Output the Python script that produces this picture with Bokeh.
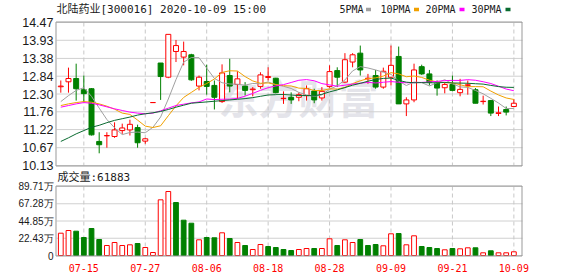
from bokeh.plotting import figure
from bokeh.models import Range1d, ColumnDataSource
from bokeh.embed import file_html
from bokeh.resources import INLINE
from bokeh.core.properties import value

# ---------------- data ----------------
dates = ["07-10", "07-13", "07-14", "07-15", "07-16", "07-17", "07-20", "07-21", "07-22", "07-23",
         "07-24", "07-27", "07-28", "07-29", "07-30", "07-31", "08-03", "08-04", "08-05", "08-06",
         "08-07", "08-10", "08-11", "08-12", "08-13", "08-14", "08-17", "08-18", "08-19", "08-20",
         "08-21", "08-24", "08-25", "08-26", "08-27", "08-28", "08-31", "09-01", "09-02", "09-03",
         "09-04", "09-07", "09-08", "09-09", "09-10", "09-11", "09-14", "09-15", "09-16", "09-17",
         "09-18", "09-21", "09-22", "09-23", "09-24", "09-25", "09-28", "09-29", "09-30", "10-09"]

opens = [12.52, 12.67, 12.77, 12.43, 12.46, 10.86, 11.03, 11.01, 11.19, 11.21,
         11.28, 10.87, 12.04, 13.24, 12.81, 13.59, 13.42, 13.49, 12.54, 12.68,
         12.56, 12.07, 12.86, 12.59, 12.54, 12.43, 12.53, 12.80, 12.78, 12.16,
         12.20, 12.20, 12.25, 12.39, 12.18, 12.53, 13.01, 12.66, 13.27, 13.54,
         12.76, 12.86, 12.51, 12.81, 13.44, 12.00, 12.12, 13.13, 12.91, 12.63,
         12.49, 12.59, 12.34, 12.56, 12.43, 12.07, 12.10, 11.71, 11.83, 11.92]
highs = [12.71, 13.10, 13.22, 12.86, 12.48, 11.14, 11.14, 11.44, 11.40, 11.52,
         11.37, 10.97, 12.04, 13.24, 14.11, 13.94, 13.89, 13.52, 12.86, 13.19,
         12.71, 13.20, 13.37, 12.99, 12.66, 12.51, 12.96, 13.11, 12.79, 12.38,
         12.35, 12.35, 12.56, 12.46, 12.51, 13.17, 13.11, 13.54, 13.54, 13.77,
         12.91, 13.03, 13.10, 13.77, 13.74, 12.20, 13.22, 13.19, 13.03, 12.71,
         12.66, 12.86, 12.76, 12.71, 12.48, 12.25, 12.12, 11.92, 11.92, 12.15]
lows = [12.34, 12.34, 12.10, 12.05, 11.04, 10.50, 10.67, 10.97, 11.09, 11.04,
        10.67, 10.79, 12.04, 12.12, 12.78, 13.27, 13.17, 12.70, 12.41, 12.28,
        11.83, 12.03, 12.35, 12.15, 12.25, 12.23, 12.46, 12.71, 12.32, 12.00,
        12.00, 12.08, 12.10, 12.02, 12.10, 12.49, 12.51, 12.63, 13.11, 12.86,
        12.61, 12.46, 12.46, 12.56, 12.00, 11.63, 12.05, 12.88, 12.56, 12.25,
        12.32, 12.38, 12.23, 12.28, 12.02, 11.98, 11.63, 11.63, 11.65, 11.92]
closes = [12.54, 12.77, 12.46, 12.31, 11.06, 10.76, 11.04, 11.21, 11.27, 11.38,
          10.82, 10.94, 12.04, 12.83, 14.11, 13.77, 13.59, 12.73, 12.81, 12.53,
          12.20, 12.94, 12.54, 12.76, 12.41, 12.45, 12.88, 12.83, 12.34, 12.17,
          12.12, 12.28, 12.46, 12.12, 12.38, 12.98, 12.81, 13.34, 13.49, 13.03,
          12.78, 12.51, 12.99, 13.17, 12.00, 12.12, 13.03, 12.91, 12.66, 12.48,
          12.59, 12.41, 12.44, 12.58, 12.02, 12.08, 11.72, 11.73, 11.75, 12.02]
volumes = [29.0, 32.5, 31.6, 23.4, 35.1, 20.8, 13.0, 16.9, 13.0, 13.9,
           15.6, 10.4, 3.9, 72.4, 83.2, 68.9, 45.9, 42.0, 20.4, 23.4,
           23.0, 29.5, 22.1, 16.9, 13.0, 7.8, 14.3, 11.7, 10.4, 7.8,
           6.5, 7.8, 9.1, 9.1, 9.1, 21.7, 13.0, 20.4, 16.9, 20.8,
           13.0, 14.3, 12.6, 28.2, 28.6, 13.9, 25.6, 11.7, 10.4, 9.1,
           7.4, 9.1, 8.7, 10.0, 10.0, 3.5, 6.1, 3.5, 3.5, 4.8]

# moving-average values before a full window is available
ma5_head = [12.07, 12.25, 12.41, 12.49]
ma10_head = [11.95, 12.00, 12.04, 12.07, 12.05, 12.00, 11.93, 11.84, 11.72]
ma20_head = [11.90, 11.95, 12.00, 12.04, 12.02, 11.97, 11.91, 11.85, 11.80, 11.75,
             11.72, 11.70, 11.72, 11.79, 11.87, 11.95, 11.99, 12.03, 12.06]
ma30_head = [10.86, 10.97, 11.09, 11.19, 11.29, 11.35, 11.43, 11.50, 11.55, 11.60,
             11.66, 11.70, 11.73, 11.77, 11.83, 11.90, 11.96, 12.02, 12.04, 12.06,
             12.08, 12.10, 12.12, 12.14, 12.16, 12.19, 12.23, 12.27, 12.28]

price_labels = ["14.47", "13.93", "13.38", "12.84", "12.30", "11.76", "11.22", "10.67", "10.13"]
vol_labels = ["0", "22.43万", "44.85万", "67.28万", "89.71万"]
date_ticks = ["07-15", "07-27", "08-06", "08-18", "08-28", "09-09", "09-21", "10-09"]
title_text = "北陆药业[300016] 2020-10-09 15:00"
vol_title = "成交量:61883"
legend_names = ["5PMA", "10PMA", "20PMA", "30PMA"]
watermark = "东方财富"

# ---------------- layout (canvas pixels) & styles ----------------
W, H = 578, 276
FX0, FX1 = 56, 522            # panel left / right edge
PY0, PY1 = 22, 165            # price panel top / bottom
VY0, VY1 = 186, 255           # volume panel top / bottom
CX0, CSTEP = 60.3, 7.679      # pixel centre of first candle, candle spacing
P_TOP, P_BOT = 14.47, 10.13
V_TOP = 89.71

RED = "#ff0000"
GREEN = "#008000"
MA_COLORS = ["#a0a0a0", "#f0a000", "#ff00ff", "#0a6b30"]
GRID = "#d0d0d0"
VGRID = "#c8c8c8"
FRAME = "#999999"
TXT = "#1a1a1a"
LABEL_FONT = value("Liberation Sans")
MONO_CJK = value("'DejaVu Sans Mono', 'Noto Sans CJK SC'")

n = len(closes)
idx = list(range(n))


def moving(head, w):
    out = list(head)
    for i in range(len(head), n):
        out.append(sum(closes[i - w + 1:i + 1]) / w)
    return out


mas = [moving(ma5_head, 5), moving(ma10_head, 10), moving(ma20_head, 20), moving(ma30_head, 30)]

up = [c >= o for o, c in zip(opens, closes)]
vol_up = [closes[0] >= opens[0]] + [closes[i] >= closes[i - 1] for i in range(1, n)]

src = ColumnDataSource(dict(
    x=idx, h=highs, l=lows,
    top=[max(a, b) for a, b in zip(opens, closes)],
    bot=[min(a, b) for a, b in zip(opens, closes)],
    cc=[RED if u else GREEN for u in up],
    cfill=["white" if u else GREEN for u in up],
    v=volumes,
    vc=[RED if u else GREEN for u in vol_up],
    vfill=["white" if u else GREEN for u in vol_up],
))

date_tick_idx = [dates.index(d) for d in date_ticks]

# scales: candle index on x, price / volume / canvas pixels on y
ppx = (P_TOP - P_BOT) / (PY1 - PY0)
vpx = V_TOP / (VY1 - VY0)
x_range = Range1d(-CX0 / CSTEP, (W - CX0) / CSTEP)
price_range = Range1d(P_BOT - (H - PY1) * ppx, P_TOP + PY0 * ppx)

p = figure(width=W, height=H, x_range=x_range, y_range=price_range,
           output_backend="svg", toolbar_location=None,
           x_axis_location=None, y_axis_location=None, min_border=0)
p.extra_y_ranges = {"vol": Range1d(-(H - VY1) * vpx, V_TOP + VY0 * vpx),
                    "py": Range1d(H, 0)}
p.extra_x_ranges = {"px": Range1d(0, W)}
p.outline_line_color = None
p.background_fill_color = "white"
p.border_fill_color = "white"
p.xgrid.visible = False
p.ygrid.visible = False

# watermark
p.text(x=[298], y=[96], text=[watermark], x_range_name="px", y_range_name="py",
       text_font=value("Noto Sans CJK SC"), text_font_size="40px", text_font_style="bold",
       text_color="#e4e4ea", text_align="center", text_baseline="middle")

# horizontal grid lines
price_ticks = [float(s) for s in price_labels]
vol_ticks = [float(s.replace("万", "")) for s in vol_labels]
p.segment(x0=[FX0] * len(price_ticks), x1=[FX1] * len(price_ticks), y0=price_ticks, y1=price_ticks,
          x_range_name="px", line_color=GRID, line_width=1)
p.segment(x0=[FX0] * len(vol_ticks), x1=[FX1] * len(vol_ticks), y0=vol_ticks, y1=vol_ticks,
          x_range_name="px", y_range_name="vol", line_color=GRID, line_width=1)
# vertical dashed grid lines
nt = len(date_tick_idx)
p.segment(x0=date_tick_idx, x1=date_tick_idx, y0=[PY0] * nt, y1=[PY1] * nt,
          y_range_name="py", line_color=VGRID, line_dash="4 3")
p.segment(x0=date_tick_idx, x1=date_tick_idx, y0=[VY0] * nt, y1=[VY1] * nt,
          y_range_name="py", line_color=VGRID, line_dash="4 3")

# candles
p.segment(x0="x", y0="l", x1="x", y1="h", line_color="cc", line_width=1, source=src)
p.vbar(x="x", width=0.65, top="top", bottom="bot", fill_color="cfill", line_color="cc",
       line_width=1, source=src)

# moving averages
for m, col in zip(mas, MA_COLORS):
    p.line(idx, m, line_color=col, line_width=1)

# volume bars
p.vbar(x="x", width=0.62, top="v", bottom=0, fill_color="vfill", line_color="vc",
       line_width=1, source=src, y_range_name="vol")

# panel frames
p.quad(left=[FX0 - 0.5, FX0 - 0.5], right=[FX1 - 0.5, FX1 - 0.5],
       top=[PY0 - 0.5, VY0 - 0.5], bottom=[PY1 + 0.5, VY1 + 0.5],
       x_range_name="px", y_range_name="py", fill_color=None, line_color=FRAME, line_width=1)

# y tick labels
p.text(x=[FX0 - 3] * len(price_ticks), y=price_ticks, text=price_labels, x_range_name="px",
       text_font=LABEL_FONT, text_font_size="12.5px", text_color=TXT,
       text_align="right", text_baseline="middle")
p.text(x=[FX0 - 3] * len(vol_ticks), y=vol_ticks, text=vol_labels, x_range_name="px",
       y_range_name="vol", text_font=LABEL_FONT, text_font_size="10px", text_color=TXT,
       text_align="right", text_baseline="middle")

# x tick labels
p.text(x=date_tick_idx, y=[267] * nt, text=date_ticks, y_range_name="py",
       text_font=value("DejaVu Sans Mono"), text_font_size="10px", text_color=RED,
       text_align="center", text_baseline="middle")

# header, legend, volume title
p.text(x=[FX0], y=[8.5], text=[title_text], x_range_name="px", y_range_name="py",
       text_font=MONO_CJK, text_font_size="11px", text_color=TXT,
       text_align="left", text_baseline="middle")
leg_text_x = [339, 380, 425, 471]
leg_sq_x = [368, 416, 461.5, 507.5]
p.text(x=leg_text_x, y=[8.5] * 4, text=legend_names, x_range_name="px", y_range_name="py",
       text_font=value("DejaVu Sans Mono"), text_font_size="10px", text_color=TXT,
       text_align="left", text_baseline="middle")
p.rect(x=leg_sq_x, y=[9] * 4, width=5, height=3.5, x_range_name="px", y_range_name="py",
       fill_color=MA_COLORS, line_color=None)
p.text(x=[FX0 + 1], y=[177], text=[vol_title], x_range_name="px", y_range_name="py",
       text_font=MONO_CJK, text_font_size="11px", text_color=TXT,
       text_align="left", text_baseline="middle")

open("out.html", "w").write(file_html(p, INLINE))
